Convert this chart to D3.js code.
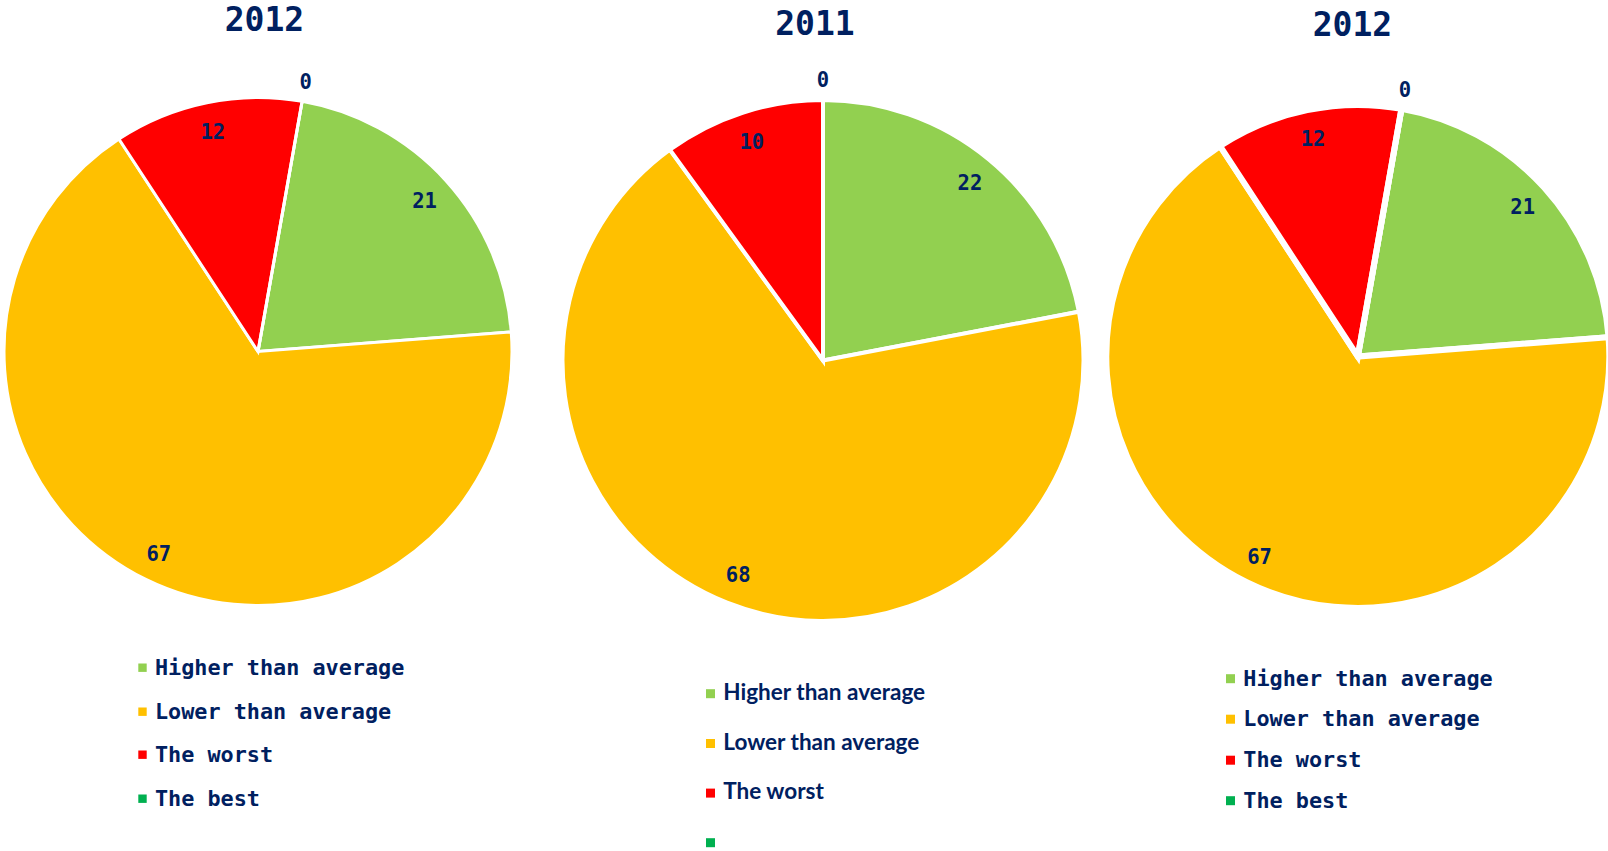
<!DOCTYPE html>
<html>
<head>
<meta charset="utf-8">
<script src="https://cdn.jsdelivr.net/npm/d3@7/dist/d3.min.js"></script>
<style>
  html, body { margin: 0; padding: 0; background: #ffffff; }
  svg { display: block; }
</style>
</head>
<body>
<svg id="chart" width="1608" height="851"></svg>
<script>
// Category names and shares (percent) per year
const categories = ["Higher than average", "Lower than average", "The worst", "The best"];
const categories2011 = ["Higher than average", "Lower than average", "The worst", ""];
const values2012 = [21, 67, 12, 0];
const values2011 = [22, 68, 10, 0];
const titles = ["2012", "2011", "2012"];
const sliceColors = ["#92D050", "#FFC000", "#FF0000", "#00B050"];

const ink = "#002060";
const mono = "'DejaVu Sans Mono', 'Liberation Mono', monospace";
const sans = "Lato, 'Open Sans', 'Noto Sans', sans-serif";

// Layout of the three panels
const panels = [
  { title: titles[0], values: values2012, labels: categories,
    cx: 258, cy: 351.5, r: 254, start: 10, stroke: 3,
    titleX: 264.5, titleY: 30.7,
    legend: { font: mono, size: 21.8, markX: 138.3, mark: 8.4, textX: 155,
              rows: [674.5, 718.5, 761.5, 805.5], markLift: 6.8 } },
  { title: titles[1], values: values2011, labels: categories2011,
    cx: 823, cy: 360.5, r: 260.5, start: 0, stroke: 4,
    titleX: 815, titleY: 35,
    legend: { font: sans, width: 202, markX: 706, mark: 9, textX: 723.3,
              rows: [700, 749.8, 799.4, 849], markLift: 6.3 } },
  { title: titles[2], values: values2012, labels: categories,
    cx: 1357.8, cy: 356.5, r: 251.5, start: 10, stroke: 6,
    titleX: 1352.5, titleY: 36,
    legend: { font: mono, size: 21.8, markX: 1226, mark: 9, textX: 1243.3,
              rows: [685.5, 726, 767, 807.5], markLift: 6.8 } }
];

const svg = d3.select("#chart");
const deg = Math.PI / 180;

panels.forEach(p => {
  const g = svg.append("g");

  // Title
  g.append("text")
    .attr("x", p.titleX).attr("y", p.titleY)
    .attr("text-anchor", "middle")
    .attr("font-family", mono).attr("font-weight", "bold")
    .attr("font-size", 33).attr("fill", ink)
    .text(p.title);

  const pie = d3.pie().sort(null)
    .startAngle(p.start * deg)
    .endAngle(p.start * deg + 2 * Math.PI);
  const arcs = pie(p.values);
  const arc = d3.arc().innerRadius(0).outerRadius(p.r);
  const insideArc = d3.arc().innerRadius(p.r * 0.885).outerRadius(p.r * 0.885);
  const outsideArc = d3.arc().innerRadius(p.r + 20).outerRadius(p.r + 20);

  const plot = g.append("g").attr("transform", `translate(${p.cx},${p.cy})`);

  // Slices
  plot.selectAll("path")
    .data(arcs)
    .join("path")
    .attr("d", arc)
    .attr("fill", (d, i) => sliceColors[i])
    .attr("stroke", "#ffffff")
    .attr("stroke-width", p.stroke)
    .attr("stroke-linejoin", "miter");

  // Value labels: inside end for non-empty slices, outside for empty ones
  plot.selectAll("text.val")
    .data(arcs)
    .join("text")
    .attr("class", "val")
    .attr("transform", d => `translate(${(d.value > 0 ? insideArc : outsideArc).centroid(d)})`)
    .attr("dy", "0.36em")
    .attr("text-anchor", "middle")
    .attr("font-family", mono).attr("font-weight", "bold")
    .attr("font-size", 20.5).attr("fill", ink)
    .text(d => d.value);

  // Legend
  const L = p.legend;
  const lg = g.append("g");
  p.labels.forEach((name, i) => {
    lg.append("rect")
      .attr("x", L.markX)
      .attr("y", L.rows[i] - L.markLift - L.mark / 2)
      .attr("width", L.mark).attr("height", L.mark)
      .attr("fill", sliceColors[i]);
    lg.append("text")
      .attr("class", "leg")
      .attr("x", L.textX).attr("y", L.rows[i])
      .attr("font-family", L.font).attr("font-weight", "bold")
      .attr("font-size", L.size || 22).attr("fill", ink)
      .text(name);
  });

  // Sans legend: size the font so the longest entry spans the given width
  if (L.width) {
    const texts = lg.selectAll("text.leg");
    const w = texts.nodes()[0].getComputedTextLength();
    texts.attr("font-size", 22 * L.width / w);
  }
});
</script>
</body>
</html>
